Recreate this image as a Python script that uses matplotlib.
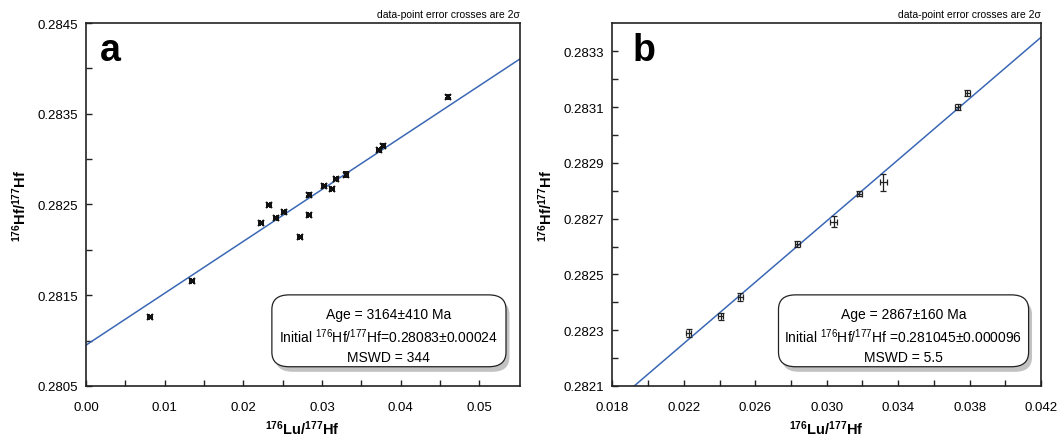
import matplotlib
matplotlib.use("Agg")
import matplotlib.pyplot as plt
from matplotlib.patches import FancyBboxPatch
from matplotlib.ticker import FixedLocator
import numpy as np

plt.rcParams['font.family'] = ['Liberation Sans', 'DejaVu Sans']
plt.rcParams['mathtext.fontset'] = 'custom'
plt.rcParams['mathtext.rm'] = 'Liberation Sans'
plt.rcParams['mathtext.bf'] = 'Liberation Sans:bold'

# ---- Panel a data ----
a_lu = [0.00815, 0.01352, 0.02227, 0.02324, 0.02412, 0.02514, 0.02722, 0.02836,
        0.02836, 0.03027, 0.03128, 0.03174, 0.0331, 0.0372, 0.03776, 0.0460]
a_hf = [0.28126, 0.28166, 0.28230, 0.28249, 0.28235, 0.28242, 0.28214, 0.28261,
        0.28238, 0.28270, 0.28267, 0.28278, 0.28283, 0.28310, 0.28315, 0.28369]
a_xerr = [0.00018] * 16
a_yerr = [0.000012] * 12 + [0.000025] + [0.000012] * 3
a_intercept = 0.28095
a_slope = 0.0572
a_text = ["Age = 3164±410 Ma",
          r"Initial $^{176}$Hf/$^{177}$Hf=0.28083±0.00024",
          "MSWD = 344"]
a_xticks = [0.00, 0.01, 0.02, 0.03, 0.04, 0.05]
a_xminor = [0.005, 0.015, 0.025, 0.035, 0.045]
a_xlabels = ['0.00', '0.01', '0.02', '0.03', '0.04', '0.05']
a_yticks = [0.2805, 0.2815, 0.2825, 0.2835, 0.2845]
a_yminor = [0.2810, 0.2820, 0.2830, 0.2840]
a_ylabels = ['0.2805', '0.2815', '0.2825', '0.2835', '0.2845']

# ---- Panel b data ----
b_lu = [0.02227, 0.02407, 0.02517, 0.02835, 0.03039, 0.03181, 0.03316, 0.03734, 0.03787]
b_hf = [0.28229, 0.28235, 0.28242, 0.28261, 0.28269, 0.28279, 0.28283, 0.28310, 0.28315]
b_xerr = [0.00014, 0.00014, 0.00014, 0.00014, 0.00018, 0.00014, 0.00020, 0.00014, 0.00014]
b_yerr = [0.000016, 0.000012, 0.000014, 0.000010, 0.000020, 0.000008, 0.000032, 0.000010, 0.000010]
b_intercept = 0.281045
b_slope = 0.0549
b_text = ["Age = 2867±160 Ma",
          r"Initial $^{176}$Hf/$^{177}$Hf =0.281045±0.000096",
          "MSWD = 5.5"]
b_xticks = [0.018, 0.022, 0.026, 0.030, 0.034, 0.038, 0.042]
b_xminor = [0.020, 0.024, 0.028, 0.032, 0.036, 0.040]
b_xlabels = ['0.018', '0.022', '0.026', '0.030', '0.034', '0.038', '0.042']
b_yticks = [0.2821, 0.2823, 0.2825, 0.2827, 0.2829, 0.2831, 0.2833]
b_yminor = [0.2822, 0.2824, 0.2826, 0.2828, 0.2830, 0.2832]
b_ylabels = ['0.2821', '0.2823', '0.2825', '0.2827', '0.2829', '0.2831', '0.2833']

line_color = '#3b68b5'
fig = plt.figure(figsize=(10.6, 4.39), dpi=100)


def draw(ax, lu, hf, xerr, yerr, icpt, slope, xlim, ylim,
         xt, xm, xl, yt, ym, yl, letter, letter_x, texts, box, star):
    xs = np.array(xlim)
    ax.plot(xs, icpt + slope * xs, color=line_color, lw=1.1, zorder=2)
    if star:
        ax.errorbar(lu, hf, xerr=xerr, yerr=yerr, fmt='x', ms=4.5, mew=1.4,
                    color='#111111', ecolor='#111111', elinewidth=1.4, capsize=2.2,
                    capthick=1.4, zorder=3)
    else:
        ax.errorbar(lu, hf, xerr=xerr, yerr=yerr, fmt='none',
                    ecolor='#222222', elinewidth=0.9, capsize=2.2, capthick=0.9, zorder=3)
    ax.set_xlim(*xlim)
    ax.set_ylim(*ylim)
    ax.xaxis.set_major_locator(FixedLocator(xt))
    ax.xaxis.set_minor_locator(FixedLocator(xm))
    ax.yaxis.set_major_locator(FixedLocator(yt))
    ax.yaxis.set_minor_locator(FixedLocator(ym))
    ax.set_xticklabels(xl)
    ax.set_yticklabels(yl)
    ax.tick_params(which='both', direction='in', top=False, right=False,
                   labelsize=9.5, color='#222222')
    ax.tick_params(axis='x', pad=11)
    ax.tick_params(axis='y', pad=6)
    ax.tick_params(which='major', length=4, width=1)
    ax.tick_params(which='minor', length=4, width=1)
    for s in ax.spines.values():
        s.set_linewidth(1.2)
        s.set_color('#222222')
    ax.set_xlabel(r'$\mathbf{^{176}Lu/^{177}Hf}$', fontsize=10.5, labelpad=4)
    ax.set_ylabel(r'$\mathbf{^{176}Hf/^{177}Hf}$', fontsize=10.5, labelpad=6)
    ax.text(letter_x, 0.897, letter, transform=ax.transAxes, fontsize=27,
            fontweight='bold', va='baseline', ha='left')
    ax.text(1.0, 1.025, 'data-point error crosses are 2σ', transform=ax.transAxes,
            fontsize=7.5, ha='right', va='center')
    x0, x1, y0, y1 = box
    shadow = FancyBboxPatch((x0 + 0.008, y0 - 0.014), x1 - x0, y1 - y0,
                            boxstyle='round,pad=0,rounding_size=0.04',
                            transform=ax.transAxes, facecolor='#9a9a9a',
                            edgecolor='none', alpha=0.6, zorder=4)
    ax.add_patch(shadow)
    fb = FancyBboxPatch((x0, y0), x1 - x0, y1 - y0,
                        boxstyle='round,pad=0,rounding_size=0.04',
                        transform=ax.transAxes, facecolor='white',
                        edgecolor='#222222', lw=0.9, zorder=5)
    ax.add_patch(fb)
    cx = (x0 + x1) / 2
    for t, yy in zip(texts, [0.198, 0.138, 0.080]):
        ax.text(cx, yy, t, transform=ax.transAxes, ha='center', va='center',
                fontsize=10, zorder=6)


ax1 = fig.add_axes([0.0811, 0.1185, 0.4091, 0.8268])
draw(ax1, a_lu, a_hf, a_xerr, a_yerr, a_intercept, a_slope,
     (0.0, 0.0551), (0.2805, 0.2845),
     a_xticks, a_xminor, a_xlabels, a_yticks, a_yminor, a_ylabels,
     'a', 0.033, a_text, (0.4287, 0.9686, 0.053, 0.251), True)

ax2 = fig.add_axes([0.5778, 0.1185, 0.4043, 0.8268])
draw(ax2, b_lu, b_hf, b_xerr, b_yerr, b_intercept, b_slope,
     (0.018, 0.042), (0.2821, 0.283402),
     b_xticks, b_xminor, b_xlabels, b_yticks, b_yminor, b_ylabels,
     'b', 0.046, b_text, (0.3874, 0.971, 0.053, 0.251), False)

fig.savefig('out.png', dpi=100)
